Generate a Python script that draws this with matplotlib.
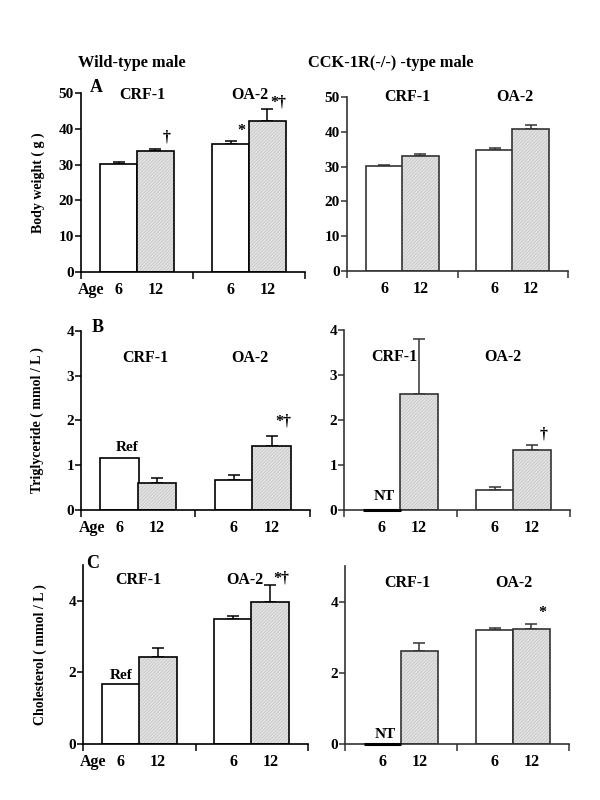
import matplotlib
matplotlib.use("Agg")
import matplotlib.pyplot as plt
import numpy as np

plt.rcParams['font.family'] = ['Liberation Serif', 'DejaVu Serif']
plt.rcParams['font.weight'] = 'bold'
plt.rcParams['hatch.linewidth'] = 0.4

# ---- data ----
groups = ["CRF-1", "OA-2"]
ages = ["6", "12"]
col_titles = ["Wild-type male", "CCK-1R(-/-) -type male"]
panel_letters = ["A", "B", "C"]
ylabels = ["Body weight ( g )", "Triglyceride ( mmol / L )", "Cholesterol ( mmol / L )"]

# order: CRF-1 age6, CRF-1 age12, OA-2 age6, OA-2 age12
bw_wt = [30.2, 33.8, 35.7, 42.2]
bw_wt_err = [0.6, 0.5, 1.0, 3.2]
bw_ko = [30.1, 33.0, 34.9, 40.8]
bw_ko_err = [0.4, 0.5, 0.4, 1.2]

tg_wt = [1.17, 0.60, 0.68, 1.43]
tg_wt_err = [0.0, 0.11, 0.10, 0.22]
tg_ko = [0.0, 2.57, 0.44, 1.33]
tg_ko_err = [0.0, 1.24, 0.08, 0.11]

ch_wt = [1.67, 2.43, 3.48, 3.97]
ch_wt_err = [0.0, 0.24, 0.09, 0.48]
ch_ko = [0.0, 2.62, 3.21, 3.22]
ch_ko_err = [0.0, 0.21, 0.06, 0.14]

# annotations: (text, bar index, x offset, y)
ann_bw_wt = [("\u2020", 1, 0.2, 35.3), ("*", 2, 0.2, 37.2), ("*\u2020", 3, 0.2, 45.2)]
ann_bw_ko = []
ann_tg_wt = [("Ref", 0, 0.14, 1.25), ("*\u2020", 3, 0.2, 1.80)]
ann_tg_ko = [("NT", 0, 0.05, 0.15), ("\u2020", 3, 0.2, 1.50)]
ann_ch_wt = [("Ref", 0, 0.0, 1.72), ("*\u2020", 3, 0.2, 4.40)]
ann_ch_ko = [("NT", 0, 0.05, 0.08), ("*", 3, 0.2, 3.45)]

panels = [
    [(bw_wt, bw_wt_err, ann_bw_wt), (bw_ko, bw_ko_err, ann_bw_ko)],
    [(tg_wt, tg_wt_err, ann_tg_wt), (tg_ko, tg_ko_err, ann_tg_ko)],
    [(ch_wt, ch_wt_err, ann_ch_wt), (ch_ko, ch_ko_err, ann_ch_ko)],
]
ylims = [(0, 50), (0, 4), (0, 5)]
yticks = [[0, 10, 20, 30, 40, 50], [0, 1, 2, 3, 4], [0, 2, 4]]
# group label centers (x CRF-1, x OA-2, y)
group_label_pos = [
    [(1.09, 3.02, 49.4), (1.10, 3.04, 50.0)],
    [(1.12, 2.95, 3.40), (0.90, 2.81, 3.40)],
    [(0.98, 2.88, 4.58), (1.11, 3.02, 4.52)],
]
letter_pos = [(0.07, 1.03), (0.074, 1.02), (0.044, 1.01)]

# axes rectangles in figure pixels (x0, x1, ytop, ybottom)
rects = [
    [(81, 305, 93, 272), (347, 568, 97, 271)],
    [(81, 310, 331, 510), (344, 570, 330, 510)],
    [(83, 308, 565, 744), (345, 569, 566, 744)],
]

W, H = 600, 800
fig = plt.figure(figsize=(6, 8), dpi=100)

centers = [0.67, 1.33, 2.67, 3.33]
width = 0.67

for r in range(3):
    for c in range(2):
        x0, x1, yt, yb = rects[r][c]
        ax = fig.add_axes([x0 / W, 1 - yb / H, (x1 - x0) / W, (yb - yt) / H])
        vals, errs, anns = panels[r][c]
        col = 'black' if c == 0 else '#333333'
        for i, (v, e) in enumerate(zip(vals, errs)):
            if v == 0:
                ax.plot([centers[i] - width / 2, centers[i] + width / 2], [0, 0],
                        color='black', lw=2.2, zorder=5, clip_on=False,
                        solid_capstyle='butt')
                continue
            if i % 2 == 0:
                ax.bar(centers[i], v, width, color='white', edgecolor=col,
                       linewidth=1.2, zorder=2)
            else:
                ax.bar(centers[i], v, width, color='#e2e2e2', edgecolor='#bcbcbc',
                       hatch='//////////', linewidth=0, zorder=2)
                ax.bar(centers[i], v, width, color='none', edgecolor=col,
                       linewidth=1.2, zorder=3)
            if e > 0:
                ax.errorbar(centers[i], v, yerr=[[0], [e]], fmt='none', ecolor=col,
                            elinewidth=1.1, capsize=4, capthick=1.1, zorder=1)
        for txt, idx, dx, yy in anns:
            if txt in ("Ref", "NT"):
                ax.text(centers[idx] + dx, yy, txt, ha='center', va='bottom',
                        fontsize=11, fontweight='bold')
            else:
                ax.text(centers[idx] + dx, yy, txt, ha='center', va='bottom',
                        fontsize=11.5, fontweight='bold')
        ax.set_xlim(0, 4)
        ax.set_ylim(*ylims[r])
        ax.set_yticks(yticks[r])
        ax.set_yticklabels([str(t) for t in yticks[r]])
        ax.set_xticks(centers)
        ax.set_xticklabels([ages[0], ages[1], ages[0], ages[1]])
        ax.set_xticks([0, 2, 4], minor=True)
        ax.tick_params(axis='x', which='major', length=0, pad=7, labelsize=11.5)
        ax.tick_params(axis='x', which='minor', length=5, width=1.1, direction='out', color=col)
        ax.tick_params(axis='y', length=4, width=1.1, direction='out', labelsize=11, pad=1, color=col)
        for lab in ax.get_xticklabels() + ax.get_yticklabels():
            lab.set_fontweight('bold')
        for s in ['top', 'right']:
            ax.spines[s].set_visible(False)
        for s in ['left', 'bottom']:
            ax.spines[s].set_linewidth(1.2)
            ax.spines[s].set_color(col)
        ax.spines['bottom'].set_zorder(4)
        # group labels
        gx1, gx2, gy = group_label_pos[r][c]
        ax.text(gx1, gy, groups[0], ha='center', va='center',
                fontsize=11.5, fontweight='bold')
        ax.text(gx2, gy, groups[1], ha='center', va='center',
                fontsize=11.5, fontweight='bold')
        if c == 0:
            lx, ly = letter_pos[r]
            ax.text(lx, ly, panel_letters[r], transform=ax.transAxes,
                    ha='center', va='center', fontsize=13, fontweight='bold')
            ax.text(0.42, -0.1, "Age", transform=ax.get_xaxis_transform(),
                    ha='right', va='center', fontsize=11.5, fontweight='bold')
            ax.text(-0.19, 0.5, ylabels[r], transform=ax.transAxes, rotation=90,
                    ha='center', va='center', fontsize=10, fontweight='bold')

fig.text(132 / W, 1 - 63 / H, col_titles[0], ha='center', va='center',
         fontsize=11.8, fontweight='bold')
fig.text(391 / W, 1 - 63 / H, col_titles[1], ha='center', va='center',
         fontsize=11.8, fontweight='bold')

fig.savefig("out.png", dpi=100)
